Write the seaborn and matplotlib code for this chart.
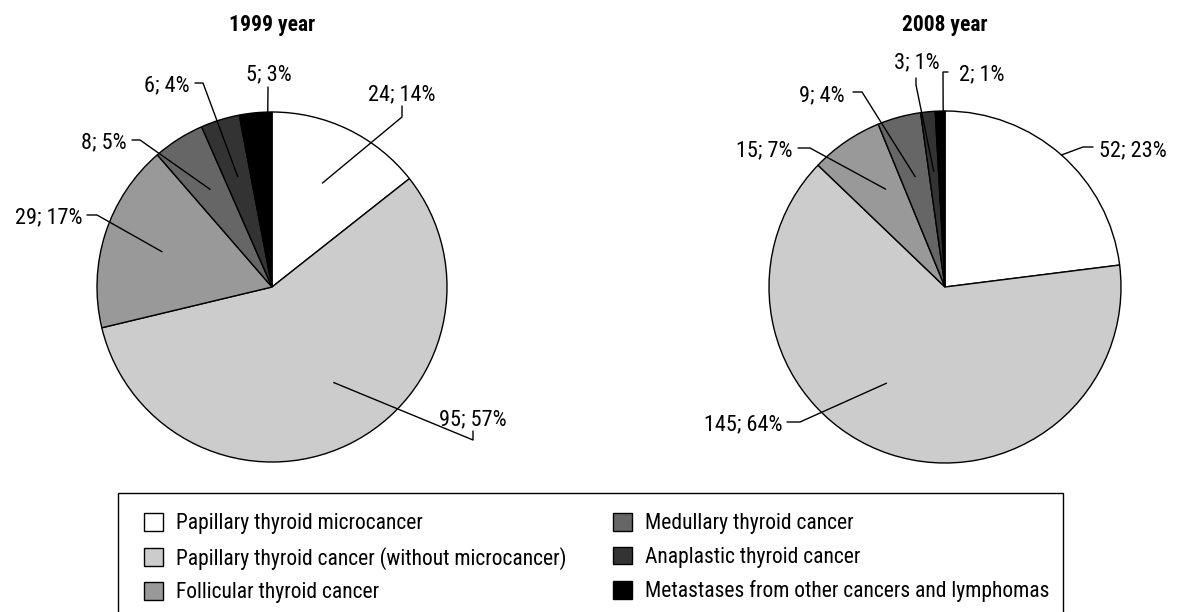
import numpy as np
import matplotlib
matplotlib.use('Agg')
import matplotlib.pyplot as plt
from matplotlib.patches import Rectangle
import seaborn as sns

categories = ['Papillary thyroid microcancer',
              'Papillary thyroid cancer (without microcancer)',
              'Follicular thyroid cancer',
              'Medullary thyroid cancer',
              'Anaplastic thyroid cancer',
              'Metastases from other cancers and lymphomas']
counts_1999 = [24, 95, 29, 8, 6, 5]
counts_2008 = [52, 145, 15, 9, 3, 2]
titles = ['1999 year', '2008 year']

colors = ['#ffffff', '#cccccc', '#999999', '#666666', '#333333', '#000000']

sns.set_theme(style='white')
plt.rcParams['font.family'] = ['Roboto Condensed', 'DejaVu Sans']
plt.rcParams['text.color'] = 'black'

W, H = 1177, 612
FS = 16
LEG_FS = 15.5

# label layout in pixels: text x, text y (centre), ha, anchor radius,
# anchor angle shift (deg), leader path
layout_1999 = [
    (402, 92, 'center', 0.66, 0, [(402, 117), (402, 106)]),
    (439, 417, 'left', 0.65, 7, [(473, 440), (473, 431)]),
    (82, 215, 'right', 0.66, 0, [(97, 215), (87, 215)]),
    (127, 140, 'right', 0.66, 0, [(140, 140), (132, 140)]),
    (190, 83, 'right', 0.66, 0, [(203, 83), (195, 83)]),
    (269, 72, 'center', 1.0, -4, [(268, 87)]),
]
layout_2008 = [
    (1099, 148, 'left', 1.0, 0, [(1083, 147), (1093, 147)]),
    (782, 422, 'right', 0.64, -13, [(800, 422), (787, 422)]),
    (792, 148, 'right', 0.65, -3, [(810, 148), (798, 148)]),
    (845, 93, 'right', 0.65, 0, [(862, 92), (853, 92)]),
    (917, 60, 'center', 0.66, 0, [(916, 85), (916, 78)]),
    (959, 72, 'left', 1.0, -1, [(943, 72), (948, 72)]),
]

fig = plt.figure(figsize=(W / 100, H / 100), dpi=100)


def draw_pie(counts, title, cx, cy, r, layout):
    ax = fig.add_axes([(cx - r) / W, (H - cy - r) / H, 2 * r / W, 2 * r / H])
    wedges, _ = ax.pie(counts, colors=colors, startangle=90, counterclock=False,
                       radius=1, wedgeprops=dict(edgecolor='black', linewidth=1))
    ax.set_xlim(-1, 1)
    ax.set_ylim(-1, 1)
    ax.axis('off')
    total = sum(counts)

    def to_data(p):
        return (p[0] - cx) / r, (cy - p[1]) / r

    for w, n, (tx, ty, ha, ar, shift, path) in zip(wedges, counts, layout):
        mid = np.deg2rad((w.theta1 + w.theta2) / 2 + shift)
        pts = [(ar * np.cos(mid), ar * np.sin(mid))] + [to_data(p) for p in path]
        xs, ys = zip(*pts)
        ax.plot(xs, ys, color='black', lw=1, clip_on=False)
        x, y = to_data((tx, ty + 8.5))
        ax.text(x, y, f'{n}; {round(n / total * 100)}%', ha=ha, va='baseline',
                fontsize=FS, color='black')
    fig.text(cx / W, 1 - 25 / H, title, ha='center', va='center',
             fontsize=FS - 0.5, fontweight='bold', color='black')
    return wedges


wedges = draw_pie(counts_1999, titles[0], 272, 287, 175, layout_1999)
draw_pie(counts_2008, titles[1], 945, 287, 176, layout_2008)

# legend box (runs off the bottom edge)
fig.patches.append(Rectangle((118 / W, -0.05), (1063 - 118) / W, 0.05 + (H - 493) / H,
                             transform=fig.transFigure, fill=False,
                             edgecolor='black', linewidth=1))

for k, x0 in enumerate([144, 613]):
    fig.legend(wedges[3 * k:3 * k + 3], categories[3 * k:3 * k + 3],
               loc='upper left', bbox_to_anchor=(x0 / W, (H - 513) / H),
               frameon=False, fontsize=LEG_FS, borderpad=0, borderaxespad=0,
               handlelength=0.88, handleheight=0.88, handletextpad=0.62,
               labelspacing=0.58)

fig.savefig('out.png', dpi=100)
